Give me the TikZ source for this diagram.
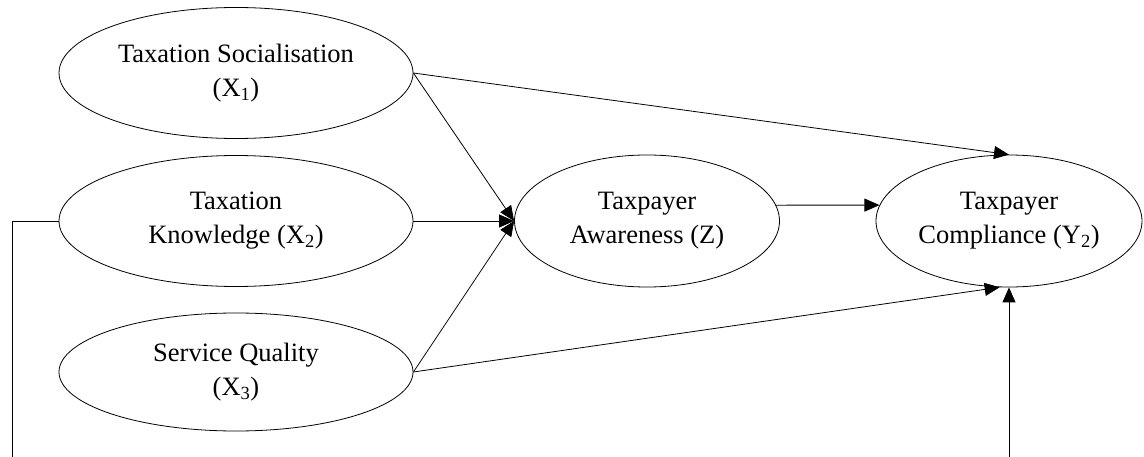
\documentclass[tikz,border=0pt]{standalone}
\usepackage{fontspec}
\setmainfont{Liberation Serif}
\usetikzlibrary{shapes.geometric,arrows.meta}
\tikzset{
    var/.style={draw, ellipse, line width=0.8pt, inner sep=0pt, align=center,
        minimum width=354pt, minimum height=131pt, font=\fontsize{26.5}{34}\selectfont},
    arr/.style={-{Triangle[length=15pt,width=13pt]}, line width=0.8pt}
}
\begin{document}
\begin{tikzpicture}[x=1pt, y=-1pt]
    \useasboundingbox (0,0) rectangle (1144,457);
    % the three exogenous variables on the left
    \node[var] (soc) at (236,73) {Taxation Socialisation\\(X\textsubscript{1})};
    \node[var] (kno) at (236,221) {Taxation\\Knowledge (X\textsubscript{2})};
    \node[var, minimum height=118pt] (ser) at (236,372) {Service Quality\\(X\textsubscript{3})};
    % mediator and outcome
    \node[var, minimum width=265pt, minimum height=132pt] (awa) at (647,221) {Taxpayer\\Awareness (Z)};
    \node[var, minimum width=266pt, minimum height=132pt] (com) at (1009,221) {Taxpayer\\Compliance (Y\textsubscript{2})};
    % free ends of the lines cut by the bottom edge
    \coordinate (kb) at (12,457);
    \coordinate (cb) at (1009,457);
    \draw[arr] (soc.east) -- (awa.west);
    \draw[arr] (kno.east) -- (awa.west);
    \draw[arr] (ser.east) -- (awa.west);
    \draw[arr] (soc.east) -- (com.north);
    \draw[arr] (ser.east) -- (com.262);
    \draw[arr] (awa.7) -- (com.173);
    \draw[line width=0.8pt] (kno.west) -| (kb);
    \draw[arr] (cb) -- (com.south);
\end{tikzpicture}
\end{document}
